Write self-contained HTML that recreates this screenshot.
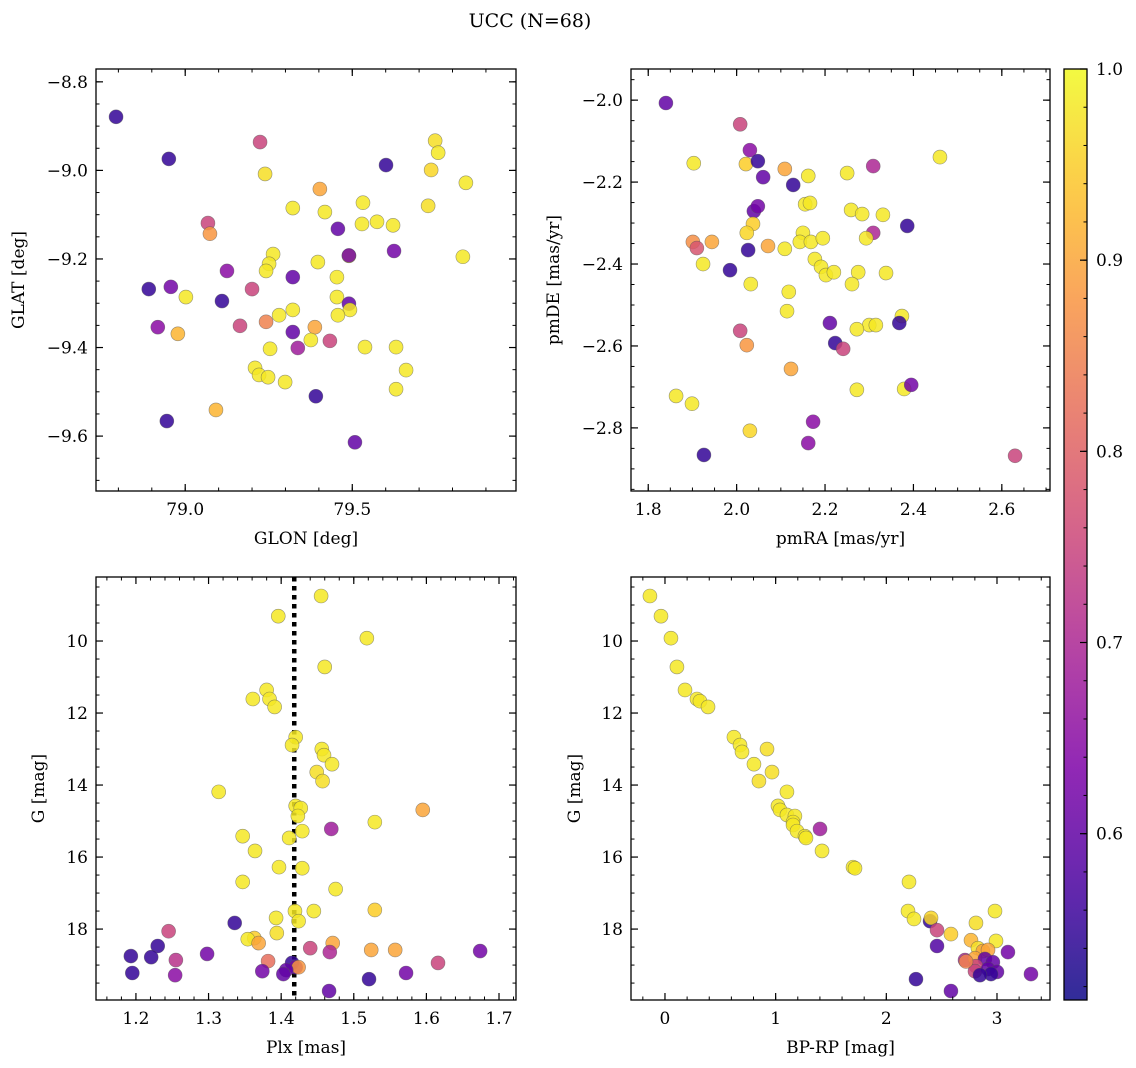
<!DOCTYPE html>
<html><head><meta charset="utf-8"><style>
html,body{margin:0;padding:0;background:#fff;}
svg{display:block;font-family:"DejaVu Serif","Liberation Serif",serif;}
</style></head><body>
<svg id="chart" width="1136" height="1068" viewBox="0 0 1136 1068" xmlns="http://www.w3.org/2000/svg">
<text x="530" y="27" text-anchor="middle" font-size="19">UCC (N=68)</text>
</svg>
<script>
// ---- Panel 1 data: GLON / GLAT / membership probability
const p1Glon=[78.793,78.951,79.224,79.239,79.601,79.748,79.757,79.736,79.840,79.403,79.322,79.418,79.532,79.574,79.529,79.622,79.727,79.457,79.068,79.074,79.625,79.263,79.251,79.242,79.125,79.397,79.490,79.831,79.322,79.454,78.891,78.957,79.200,79.110,79.002,79.454,79.490,79.493,79.322,79.457,79.281,79.242,79.164,78.918,78.978,79.322,79.433,79.388,79.376,79.337,79.254,79.538,79.631,79.209,79.221,79.248,79.299,79.661,79.631,79.391,79.092,78.945,79.508,79.490];
const p1Glat=[-8.879,-8.974,-8.936,-9.008,-8.988,-8.933,-8.960,-8.999,-9.028,-9.042,-9.085,-9.094,-9.073,-9.116,-9.121,-9.124,-9.080,-9.132,-9.119,-9.143,-9.182,-9.189,-9.211,-9.227,-9.227,-9.207,-9.193,-9.195,-9.241,-9.241,-9.268,-9.263,-9.268,-9.295,-9.286,-9.286,-9.301,-9.315,-9.315,-9.327,-9.327,-9.342,-9.351,-9.354,-9.369,-9.365,-9.385,-9.354,-9.383,-9.401,-9.403,-9.399,-9.399,-9.446,-9.462,-9.467,-9.478,-9.451,-9.494,-9.510,-9.541,-9.566,-9.614,-9.192];
const p1Prob=[0.55,0.55,0.75,0.97,0.55,0.97,0.98,0.96,0.98,0.9,0.98,0.98,0.98,0.98,0.98,0.98,0.97,0.6,0.75,0.88,0.62,0.98,0.98,0.98,0.65,0.98,0.98,0.98,0.6,0.98,0.55,0.62,0.75,0.55,0.98,0.98,0.6,0.98,0.98,0.98,0.98,0.85,0.75,0.65,0.92,0.6,0.75,0.9,0.98,0.68,0.98,0.98,0.98,0.98,0.98,0.98,0.98,0.98,0.98,0.55,0.92,0.55,0.6,0.62];
// ---- Panel 2 data: pmRA / pmDE
const p2Pmra=[1.840,2.008,1.903,2.021,2.030,2.048,2.060,2.109,2.128,2.162,2.250,2.309,2.460,2.155,2.166,2.039,2.048,2.259,2.284,2.331,2.386,2.037,2.023,2.309,2.150,1.901,1.944,1.910,2.071,2.026,2.143,2.168,2.195,2.293,2.109,2.177,2.191,2.202,2.220,1.924,1.985,2.275,2.338,2.032,2.261,2.118,2.114,2.374,2.211,2.300,2.315,2.368,2.008,2.272,2.023,2.223,2.241,2.123,1.863,1.899,2.272,2.379,2.395,2.173,2.162,2.030,1.926,2.630];
const p2Pmde=[-2.007,-2.059,-2.154,-2.156,-2.122,-2.149,-2.188,-2.168,-2.207,-2.185,-2.178,-2.161,-2.139,-2.254,-2.251,-2.271,-2.259,-2.268,-2.278,-2.280,-2.307,-2.302,-2.324,-2.324,-2.324,-2.346,-2.346,-2.361,-2.356,-2.366,-2.346,-2.346,-2.337,-2.337,-2.363,-2.388,-2.407,-2.427,-2.420,-2.400,-2.415,-2.420,-2.422,-2.449,-2.449,-2.468,-2.515,-2.527,-2.544,-2.549,-2.549,-2.544,-2.563,-2.559,-2.598,-2.593,-2.607,-2.656,-2.722,-2.741,-2.707,-2.705,-2.695,-2.785,-2.837,-2.807,-2.866,-2.868];
const p2Prob=[0.6,0.75,0.98,0.95,0.65,0.55,0.6,0.9,0.55,0.98,0.98,0.7,0.98,0.98,0.98,0.6,0.62,0.98,0.98,0.98,0.55,0.95,0.96,0.7,0.98,0.87,0.9,0.78,0.9,0.55,0.98,0.98,0.98,0.98,0.98,0.98,0.98,0.98,0.98,0.98,0.55,0.98,0.98,0.98,0.98,0.98,0.98,0.98,0.6,0.98,0.98,0.55,0.75,0.98,0.88,0.55,0.75,0.9,0.98,0.98,0.98,0.98,0.62,0.65,0.65,0.96,0.55,0.75];
// ---- Panel 3 data: Plx / G
const p3Plx=[1.455,1.396,1.518,1.460,1.380,1.384,1.361,1.391,1.420,1.415,1.456,1.459,1.470,1.449,1.457,1.314,1.420,1.427,1.423,1.595,1.529,1.469,1.429,1.347,1.411,1.364,1.397,1.429,1.347,1.475,1.419,1.529,1.445,1.393,1.424,1.336,1.245,1.394,1.363,1.354,1.369,1.471,1.230,1.440,1.524,1.557,1.467,1.674,1.298,1.193,1.221,1.255,1.382,1.415,1.616,1.420,1.424,1.407,1.374,1.403,1.572,1.195,1.254,1.521,1.466];
const p3G=[8.75,9.31,9.92,10.72,11.36,11.61,11.61,11.83,12.67,12.89,13.00,13.17,13.42,13.64,13.89,14.19,14.58,14.64,14.86,14.69,15.03,15.22,15.28,15.42,15.47,15.83,16.28,16.31,16.69,16.89,17.5,17.47,17.5,17.69,17.78,17.83,18.06,18.11,18.25,18.28,18.39,18.39,18.47,18.53,18.58,18.58,18.64,18.61,18.69,18.75,18.78,18.86,18.89,18.94,18.94,19.06,19.06,19.14,19.17,19.25,19.22,19.22,19.28,19.39,19.72];
const p3Prob=[0.98,0.98,0.98,0.98,0.98,0.98,0.98,0.98,0.98,0.98,0.98,0.98,0.98,0.97,0.97,0.98,0.98,0.98,0.98,0.9,0.98,0.68,0.98,0.98,0.98,0.98,0.98,0.98,0.98,0.98,0.98,0.95,0.98,0.98,0.98,0.55,0.75,0.97,0.95,0.98,0.9,0.9,0.55,0.75,0.9,0.9,0.7,0.62,0.62,0.55,0.55,0.72,0.82,0.55,0.75,0.62,0.88,0.6,0.62,0.6,0.62,0.55,0.65,0.55,0.6];
const p3Line=[1.418];
// ---- Panel 4 data: BP-RP / G
const p4Bprp=[-0.136,-0.036,0.054,0.108,0.181,0.289,0.316,0.389,0.623,0.678,0.696,0.922,0.804,0.967,0.849,1.102,1.021,1.039,1.102,1.174,1.157,1.157,1.401,1.193,1.265,1.274,1.419,1.699,1.717,2.205,2.196,2.250,2.395,2.404,2.810,2.982,2.458,2.584,2.458,2.765,2.991,2.828,2.873,2.919,3.099,2.711,2.801,2.891,2.963,2.810,2.801,2.919,3.000,2.946,2.846,3.307,2.268,2.584,2.720];
const p4G=[8.75,9.31,9.92,10.72,11.36,11.61,11.67,11.83,12.67,12.89,13.08,13.00,13.42,13.64,13.89,14.19,14.58,14.69,14.83,14.86,15.03,15.11,15.22,15.28,15.42,15.47,15.83,16.28,16.31,16.69,17.5,17.72,17.78,17.69,17.83,17.5,18.03,18.14,18.47,18.31,18.33,18.53,18.61,18.58,18.64,18.86,18.81,18.83,18.92,19.03,19.17,19.11,19.19,19.25,19.28,19.25,19.39,19.72,18.9];
const p4Prob=[0.98,0.98,0.98,0.98,0.98,0.98,0.98,0.98,0.98,0.98,0.98,0.97,0.98,0.97,0.97,0.98,0.98,0.98,0.98,0.98,0.98,0.98,0.68,0.98,0.98,0.98,0.98,0.98,0.98,0.98,0.98,0.98,0.55,0.96,0.97,0.98,0.75,0.95,0.58,0.92,0.98,0.97,0.9,0.9,0.62,0.7,0.9,0.6,0.6,0.75,0.75,0.6,0.6,0.55,0.55,0.62,0.55,0.6,0.85];
// ---- Colorbar
const cbTicks=[0.6,0.7,0.8,0.9,1.0];
const cbRange=[0.513,1.0];

const NS="http://www.w3.org/2000/svg";
const svg=document.getElementById('chart');
function el(tag,attrs,parent){const e=document.createElementNS(NS,tag);for(const k in attrs)e.setAttribute(k,attrs[k]);(parent||svg).appendChild(e);return e;}
const stops=[[0,[13,8,135]],[0.125,[76,2,161]],[0.25,[126,3,168]],[0.375,[169,35,149]],[0.5,[204,71,120]],[0.625,[229,107,93]],[0.75,[248,148,65]],[0.875,[253,195,40]],[1,[240,249,33]]];
function plasma(t){t=Math.max(0,Math.min(1,t));for(let i=1;i<stops.length;i++){if(t<=stops[i][0]){const a=stops[i-1],b=stops[i];const f=(t-a[0])/(b[0]-a[0]);const c=a[1].map((v,j)=>Math.round(v+(b[1][j]-v)*f));return `rgb(${c[0]},${c[1]},${c[2]})`;}}return 'rgb(240,249,33)';}
function probColor(p){return plasma((p-cbRange[0])/(cbRange[1]-cbRange[0]));}
function fmt(v,d){const s=Math.abs(v).toFixed(d);return (v< -1e-9?'\u2212':'')+s;}

function panel(o){
  const g=el('g',{});
  
  
  const [L,T,R,B]=o.box;
  const sx=v=>L+(v-o.xd[0])/(o.xd[1]-o.xd[0])*(R-L);
  const sy=v=>T+(v-o.yd[0])/(o.yd[1]-o.yd[0])*(B-T);
  const clipId='clip-'+o.name;
  const cp=el('clipPath',{id:clipId},g);el('rect',{x:L,y:T,width:R-L,height:B-T},cp);
  const pts=el('g',{'clip-path':`url(#${clipId})`},g);
  if(o.vline){o.vline.forEach(v=>{const ln=el('line',{x1:sx(v),x2:sx(v),y1:T,y2:B,stroke:'#000','stroke-width':4.5,'stroke-dasharray':'4.5,4.5'},pts);
    
    });}
  for(let i=0;i<o.x.length;i++){
    const c=el('circle',{cx:sx(o.x[i]),cy:sy(o.y[i]),r:7,fill:probColor(o.p[i]),'fill-opacity':0.85,stroke:'#555','stroke-opacity':0.6,'stroke-width':0.6},pts);
    
    
  }
  const eps=1e-9;
  function ticks(min,max,step){const a=[];let s=Math.ceil((min-eps)/step);for(let v=s*step;v<=max+eps;v+=step)a.push(+v.toFixed(6));return a;}
  ticks(o.xd[0],o.xd[1],o.xminor).forEach(v=>{const x=sx(v);el('line',{x1:x,x2:x,y1:B,y2:B-3.5,stroke:'#000','stroke-width':1},g);el('line',{x1:x,x2:x,y1:T,y2:T+3.5,stroke:'#000','stroke-width':1},g);});
  const ylo=Math.min(...o.yd),yhi=Math.max(...o.yd);
  ticks(ylo,yhi,o.yminor).forEach(v=>{const y=sy(v);el('line',{x1:L,x2:L+3.5,y1:y,y2:y,stroke:'#000','stroke-width':1},g);el('line',{x1:R,x2:R-3.5,y1:y,y2:y,stroke:'#000','stroke-width':1},g);});
  ticks(o.xd[0],o.xd[1],o.xmajor).forEach(v=>{const x=sx(v);el('line',{x1:x,x2:x,y1:B,y2:B-7,stroke:'#000','stroke-width':1.2},g);el('line',{x1:x,x2:x,y1:T,y2:T+7,stroke:'#000','stroke-width':1.2},g);
    const t=el('text',{x:x,y:B+24,'text-anchor':'middle','font-size':17},g);t.textContent=fmt(v,o.xdec);
    
    });
  ticks(ylo,yhi,o.ymajor).forEach(v=>{const y=sy(v);el('line',{x1:L,x2:L+7,y1:y,y2:y,stroke:'#000','stroke-width':1.2},g);el('line',{x1:R,x2:R-7,y1:y,y2:y,stroke:'#000','stroke-width':1.2},g);
    const t=el('text',{x:L-8,y:y+6,'text-anchor':'end','font-size':17},g);t.textContent=fmt(v,o.ydec);
    
    });
  el('rect',{x:L,y:T,width:R-L,height:B-T,fill:'none',stroke:'#000','stroke-width':1.3},g);
  const xl=el('text',{x:(L+R)/2,y:B+53,'text-anchor':'middle','font-size':17},g);xl.textContent=o.xlabel;
  
  
  const yx=o.ylx;const yl=el('text',{x:yx,y:(T+B)/2,'text-anchor':'middle','font-size':17,transform:`rotate(-90 ${yx} ${(T+B)/2})`},g);yl.textContent=o.ylabel;
  
  
}
panel({name:'glon-glat-panel',box:[96,69,516,491],xd:[78.733,79.990],yd:[-8.771,-9.724],x:p1Glon,y:p1Glat,p:p1Prob,xmajor:0.5,xminor:0.1,ymajor:0.2,yminor:0.05,xdec:1,ydec:1,xlabel:'GLON [deg]',ylabel:'GLAT [deg]',ylx:24});
panel({name:'pm-panel',box:[631,69,1050,491],xd:[1.761,2.709],yd:[-1.924,-2.954],x:p2Pmra,y:p2Pmde,p:p2Prob,xmajor:0.2,xminor:0.05,ymajor:0.2,yminor:0.05,xdec:1,ydec:1,xlabel:'pmRA [mas/yr]',ylabel:'pmDE [mas/yr]',ylx:559});
panel({name:'plx-g-panel',box:[96,577,516,1000],xd:[1.145,1.7234],yd:[8.222,19.97],x:p3Plx,y:p3G,p:p3Prob,xmajor:0.1,xminor:0.02,ymajor:2,yminor:0.5,xdec:1,ydec:0,xlabel:'Plx [mas]',ylabel:'G [mag]',ylx:44,vline:p3Line});
panel({name:'cmd-panel',box:[631,577,1050,1000],xd:[-0.307,3.479],yd:[8.222,19.97],x:p4Bprp,y:p4G,p:p4Prob,xmajor:1,xminor:0.2,ymajor:2,yminor:0.5,xdec:0,ydec:0,xlabel:'BP-RP [mag]',ylabel:'G [mag]',ylx:580});

(function(){
  const g=el('g',{});
  
  
  const L=1064,R=1087,T=69,B=1000;
  const defs=el('defs',{},g);const lg=el('linearGradient',{id:'cbgrad',x1:0,y1:1,x2:0,y2:0},defs);
  for(let i=0;i<=20;i++){el('stop',{offset:i/20,'stop-color':plasma(i/20)},lg);}
  el('rect',{x:L,y:T,width:R-L,height:B-T,fill:'url(#cbgrad)','fill-opacity':0.85},g);
  const sy=v=>B-(v-cbRange[0])/(cbRange[1]-cbRange[0])*(B-T);
  for(let v=0.52;v<=1.0001;v+=0.02){const y=sy(v);el('line',{x1:R,x2:R-3.5,y1:y,y2:y,stroke:'#000','stroke-width':1},g);}
  cbTicks.forEach(v=>{const y=sy(v);el('line',{x1:R,x2:R-7,y1:y,y2:y,stroke:'#000','stroke-width':1.2},g);
    const t=el('text',{x:R+9,y:y+6,'font-size':17},g);t.textContent=v.toFixed(1);
    
    });
  el('rect',{x:L,y:T,width:R-L,height:B-T,fill:'none',stroke:'#000','stroke-width':1.3},g);
})();
</script>
</body></html>
